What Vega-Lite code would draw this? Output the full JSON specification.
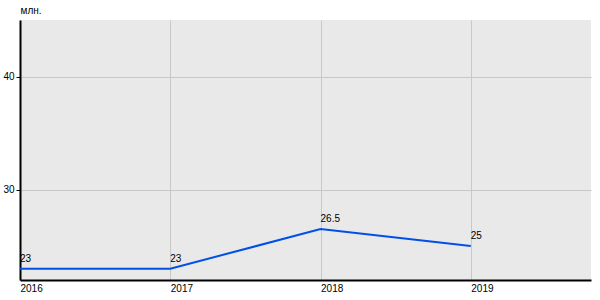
{
  "$schema": "https://vega.github.io/schema/vega-lite/v6.json",
  "width": 571,
  "height": 260,
  "autosize": {"type": "none"},
  "padding": {"left": 20, "top": 20, "right": 9, "bottom": 20},
  "background": "#ffffff",
  "config": {
    "view": {"fill": "#e9e9e9", "stroke": null},
    "font": "Liberation Sans"
  },
  "data": {
    "values": [
      {"year": 2016, "value": 23, "label": "23"},
      {"year": 2017, "value": 23, "label": "23"},
      {"year": 2018, "value": 26.5, "label": "26.5"},
      {"year": 2019, "value": 25, "label": "25"}
    ]
  },
  "encoding": {
    "x": {
      "field": "year",
      "type": "quantitative",
      "scale": {"domain": [2016, 2019.8], "nice": false, "zero": false},
      "axis": {
        "values": [2016, 2017, 2018, 2019],
        "format": "d",
        "title": null,
        "grid": true,
        "gridColor": "#c8c8c8",
        "gridWidth": 1,
        "domainColor": "#000000",
        "domainWidth": 2,
        "ticks": false,
        "labelAlign": "left",
        "labelPadding": 3,
        "labelFontSize": 10,
        "labelColor": "#000000",
        "labelFlush": false
      }
    },
    "y": {
      "field": "value",
      "type": "quantitative",
      "scale": {"domain": [22, 45], "nice": false, "zero": false},
      "axis": {
        "values": [30, 40],
        "title": "млн.",
        "titleAngle": 0,
        "titleX": 0,
        "titleY": -5,
        "titleAlign": "left",
        "titleBaseline": "bottom",
        "titleFontWeight": "normal",
        "titleFontSize": 10,
        "titleColor": "#000000",
        "grid": true,
        "gridColor": "#c8c8c8",
        "gridWidth": 1,
        "domainColor": "#000000",
        "domainWidth": 2,
        "tickColor": "#000000",
        "tickSize": 4,
        "labelPadding": 2,
        "labelFontSize": 10,
        "labelColor": "#000000"
      }
    }
  },
  "layer": [
    {
      "mark": {"type": "line", "color": "#0050e6", "strokeWidth": 2}
    },
    {
      "mark": {"type": "text", "align": "left", "baseline": "alphabetic", "dy": -7, "fontSize": 10, "color": "#000000"},
      "encoding": {"text": {"field": "label"}}
    }
  ]
}
